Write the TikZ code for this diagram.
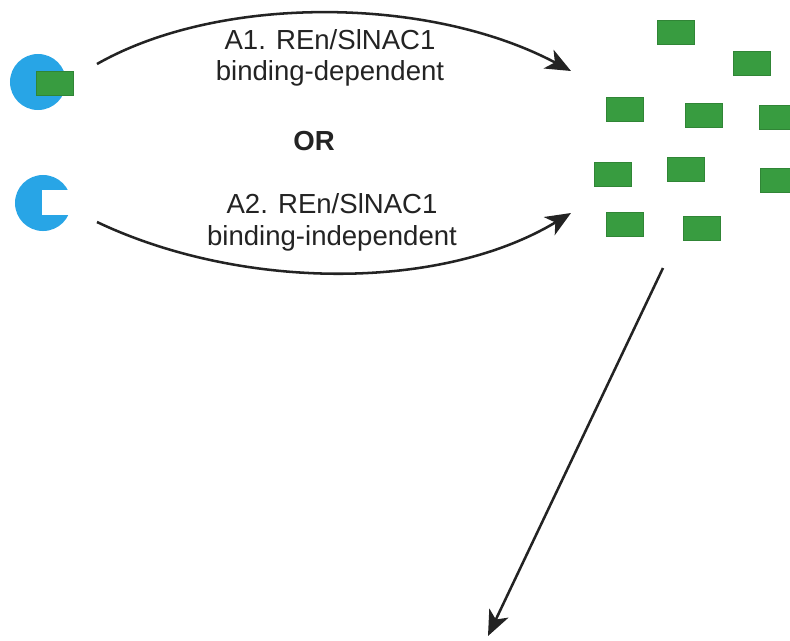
\documentclass[tikz,border=0pt]{standalone}
\usepackage{fontspec}
\setmainfont{Liberation Sans}
\usetikzlibrary{arrows.meta}
\definecolor{protblue}{RGB}{40,165,230}
\definecolor{fraggreen}{RGB}{56,156,64}
\definecolor{ink}{RGB}{35,35,35}
\tikzset{
  protein/.style={circle,fill=protblue,minimum size=1.4cm,inner sep=0pt},
  fragment/.style={rectangle,fill=fraggreen,draw=fraggreen!85!black,line width=0.4pt,minimum width=0.925cm,minimum height=0.6cm,inner sep=0pt},
  captxt/.style={anchor=base,text=ink,inner sep=0pt,font=\fontsize{19.6}{22}\selectfont}
}
\begin{document}
\begin{tikzpicture}[x=0.025cm, y=-0.025cm, line width=1.8pt, draw=ink, >={Stealth[length=18pt,width=15pt,inset=5pt]}]
\useasboundingbox (0,0) rectangle (790,640);

\node[protein] (p1) at (38,82) {};
\node[fragment] (f0) at (54.5,83) {};
\node[protein] (p2) at (43,203) {};
\fill[white] (42,190) rectangle (72,215);

\coordinate (s1) at (97,64);
\coordinate (e1) at (571,71);
\coordinate (s2) at (97,222);
\coordinate (e2) at (571,213);
\coordinate (s3) at (663,268);
\coordinate (e3) at (488,636);

\draw[->] (s1) .. controls (220,-6) and (430,-4) .. (e1);
\draw[->] (s2) .. controls (240,290) and (440,292) .. (e2);
\draw[->] (s3) -- (e3);

\node[captxt] (a1) at (330,49) {A1. REn/SlNAC1};
\node[captxt] (a1b) at (330,80) {binding-dependent};
\node[captxt,font=\fontsize{19.6}{22}\selectfont\bfseries] (or) at (314,150) {OR};
\node[captxt] (a2) at (332,213) {A2. REn/SlNAC1};
\node[captxt] (a2b) at (332,245) {binding-independent};

\foreach \x/\y [count=\i] in {675.5/32.5, 751.5/63, 624.5/109, 703.5/115, 777.5/117.5,
                              613/174, 686/169.5, 778.5/180.5, 624.5/224.5, 702/228}
       \node[fragment] (g\i) at (\x,\y) {};
\end{tikzpicture}
\end{document}
